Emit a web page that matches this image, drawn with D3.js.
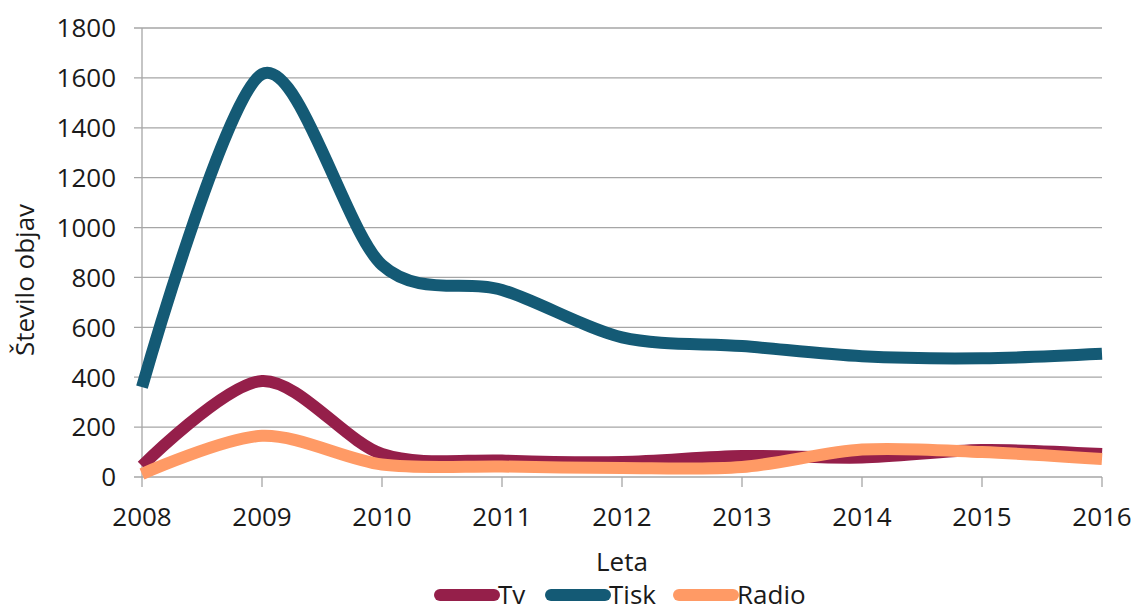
<!DOCTYPE html>
<html>
<head>
<meta charset="utf-8">
<script src="https://cdn.jsdelivr.net/npm/d3@7"></script>
<style>
  body { margin: 0; background: #fff; }
  svg { display: block; font-family: "Open Sans", "Liberation Sans", sans-serif; }
</style>
</head>
<body>
<svg id="chart" width="1134" height="613"></svg>
<script>
var years = [2008, 2009, 2010, 2011, 2012, 2013, 2014, 2015, 2016];
var tv    = [44, 385, 92, 66, 60, 84, 78, 108, 92];
var tisk  = [360, 1615, 850, 750, 560, 525, 484, 476, 494];
var radio = [12, 165, 50, 42, 36, 40, 110, 100, 72];
var yTicks = [0, 200, 400, 600, 800, 1000, 1200, 1400, 1600, 1800];

var series = [
  { name: "Tv", values: tv, color: "#951f4a" },
  { name: "Tisk", values: tisk, color: "#145a75" },
  { name: "Radio", values: radio, color: "#ff9a65" }
];

var svg = d3.select("#chart");
var margin = { left: 142, right: 32, top: 28, bottom: 136 };
var width = 1134 - margin.left - margin.right,
    height = 613 - margin.top - margin.bottom;
var fontSize = 26;

var x = d3.scaleLinear().domain([2008, 2016]).range([0, width]);
var y = d3.scaleLinear().domain([0, 1800]).range([height, 0]);

var g = svg.append("g").attr("transform", "translate(" + margin.left + "," + margin.top + ")");

// gridlines
g.append("g").selectAll("line")
  .data(yTicks)
  .enter().append("line")
  .attr("x1", -8).attr("x2", width)
  .attr("y1", function (d) { return y(d); })
  .attr("y2", function (d) { return y(d); })
  .attr("stroke", "#a6a6a6")
  .attr("stroke-width", 1.3);

// y axis line
g.append("line")
  .attr("x1", 0).attr("x2", 0)
  .attr("y1", 0).attr("y2", height)
  .attr("stroke", "#a6a6a6").attr("stroke-width", 1.3);

// x ticks
g.append("g").selectAll("line")
  .data(years)
  .enter().append("line")
  .attr("x1", function (d) { return x(d); })
  .attr("x2", function (d) { return x(d); })
  .attr("y1", height).attr("y2", height + 10)
  .attr("stroke", "#a6a6a6").attr("stroke-width", 1.3);

// y labels
g.append("g").selectAll("text")
  .data(yTicks)
  .enter().append("text")
  .attr("x", -26)
  .attr("y", function (d) { return y(d); })
  .attr("dy", "0.36em")
  .attr("text-anchor", "end")
  .attr("font-size", fontSize)
  .attr("fill", "#1a1a1a")
  .text(function (d) { return d; });

// x labels
g.append("g").selectAll("text")
  .data(years)
  .enter().append("text")
  .attr("x", function (d) { return x(d); })
  .attr("y", height + 49)
  .attr("text-anchor", "middle")
  .attr("font-size", fontSize)
  .attr("fill", "#1a1a1a")
  .text(function (d) { return d; });

// axis titles
svg.append("text")
  .attr("x", 622)
  .attr("y", 571)
  .attr("text-anchor", "middle")
  .attr("font-size", fontSize)
  .attr("fill", "#1a1a1a")
  .text("Leta");

svg.append("text")
  .attr("transform", "translate(34,280) rotate(-90)")
  .attr("text-anchor", "middle")
  .attr("font-size", fontSize)
  .attr("fill", "#1a1a1a")
  .text("Število objav");

// lines
var line = d3.line()
  .x(function (d, i) { return x(years[i]); })
  .y(function (d) { return y(d); })
  .curve(d3.curveCardinal.tension(0.1));

g.append("g").selectAll("path")
  .data(series)
  .enter().append("path")
  .attr("d", function (s) { return line(s.values); })
  .attr("fill", "none")
  .attr("stroke", function (s) { return s.color; })
  .attr("stroke-width", 12)
  .attr("stroke-linejoin", "round");

// legend (kept just inside the bottom edge)
var legendX = [440, 551, 679];
var legend = svg.append("g").selectAll("g")
  .data(series)
  .enter().append("g")
  .attr("transform", function (s, i) { return "translate(" + legendX[i] + ",595)"; });

legend.append("line")
  .attr("x1", 0).attr("x2", 54)
  .attr("y1", 0).attr("y2", 0)
  .attr("stroke", function (s) { return s.color; })
  .attr("stroke-width", 12)
  .attr("stroke-linecap", "round");

legend.append("text")
  .attr("x", 58)
  .attr("y", 0)
  .attr("dy", "0.36em")
  .attr("font-size", fontSize)
  .attr("fill", "#1a1a1a")
  .text(function (s) { return s.name; });
</script>
</body>
</html>
